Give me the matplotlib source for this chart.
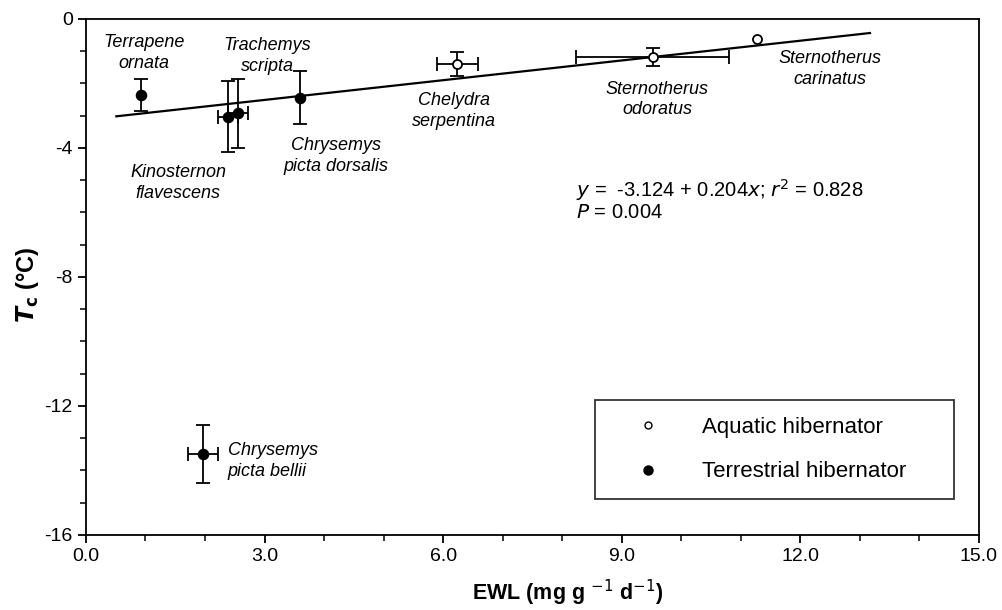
import matplotlib
matplotlib.use("Agg")
import matplotlib.pyplot as plt
import numpy as np

plt.rcParams['font.family'] = ['Liberation Sans', 'DejaVu Sans']

# Species data
species = ["Terrapene\nornata", "Kinosternon\nflavescens", "Trachemys\nscripta",
           "Chrysemys\npicta dorsalis", "Chelydra\nserpentina", "Sternotherus\nodoratus",
           "Sternotherus\ncarinatus", "Chrysemys\npicta bellii"]
ewl = [0.92, 2.38, 2.56, 3.59, 6.24, 9.52, 11.28, 1.96]
ewl_err = [0.0, 0.17, 0.17, 0.0, 0.34, 1.28, 0.0, 0.25]
tc = [-2.36, -3.04, -2.92, -2.44, -1.40, -1.18, -0.62, -13.49]
tc_err = [0.50, 1.10, 1.07, 0.83, 0.38, 0.28, 0.0, 0.90]
habit = ["T", "T", "T", "T", "A", "A", "A", "T"]

# Regression
intercept = -3.124
slope = 0.204
fit_x = [0.51, 13.17]

# Label positions (data coords) and alignments
label_xy = [(0.98, -1.06), (1.55, -5.1), (3.05, -1.15), (4.2, -4.25),
            (6.18, -2.85), (9.6, -2.5), (12.5, -1.55), (2.38, -13.7)]
label_ha = ["center", "center", "center", "center", "center", "center", "center", "left"]

fig = plt.figure(figsize=(10.03, 6.10), dpi=100)
ax = fig.add_axes([0.0857, 0.123, 0.8903, 0.846])

for i in range(len(ewl)):
    filled = habit[i] == "T"
    ms = 7 if filled else 6.5
    ax.errorbar(ewl[i], tc[i],
                xerr=ewl_err[i] if ewl_err[i] > 0 else None,
                yerr=tc_err[i] if tc_err[i] > 0 else None,
                fmt='o', color='black', ms=ms,
                mfc='black' if filled else 'white', mec='black', mew=1.3,
                ecolor='black', elinewidth=1.3, capsize=5, capthick=1.3, zorder=3)

xs = np.array(fit_x)
ax.plot(xs, intercept + slope * xs, color='black', lw=1.6, zorder=2)

for name, (lx, ly), ha in zip(species, label_xy, label_ha):
    ax.text(lx, ly, name, ha=ha, va='center', fontsize=13, style='italic',
            linespacing=1.3)

ax.text(8.24, -5.6, "$y$ =  -3.124 + 0.204$x$; $r^2$ = 0.828\n$P$ = 0.004",
        ha='left', va='center', fontsize=14.5, linespacing=1.05)

# Legend
h_a, = ax.plot([], [], 'o', mfc='white', mec='black', ms=5, mew=1.0, ls='none')
h_t, = ax.plot([], [], 'o', mfc='black', mec='black', ms=6.5, ls='none')
leg = ax.legend([h_a, h_t], ["Aquatic hibernator", "Terrestrial hibernator"],
                loc='lower left', bbox_to_anchor=(0.570, 0.0698, 0.402, 0.196), mode='expand',
                borderaxespad=0.0,
                fontsize=16, frameon=True, fancybox=False, borderpad=0.75,
                labelspacing=1.05, handletextpad=0.8, handlelength=3.27)
leg.get_frame().set_edgecolor('black')
leg.get_frame().set_linewidth(1.3)

ax.set_xlim(0, 15)
ax.set_ylim(-16, 0)
ax.set_xticks(np.arange(0, 15.1, 3))
ax.set_xticklabels([f"{v:.1f}" for v in np.arange(0, 15.1, 3)])
ax.set_xticks(np.arange(0, 15.1, 1), minor=True)
ax.set_yticks(np.arange(-16, 0.1, 4))
ax.set_yticklabels([f"{int(v)}" for v in np.arange(-16, 0.1, 4)])
ax.set_yticks(np.arange(-16, 0.1, 1), minor=True)
ax.tick_params(which='major', direction='out', length=6, width=1.3, labelsize=14)
ax.tick_params(which='minor', direction='out', length=4, width=1.1)
for s in ax.spines.values():
    s.set_linewidth(1.3)

ax.set_xlabel("EWL (mg g $^{-1}$ d$^{-1}$)", fontsize=15.5, fontweight='bold')
ax.xaxis.set_label_coords(0.54, -0.083)
ax.set_ylabel(r"$\boldsymbol{T}_{\mathbf{c}}$ (°C)", fontsize=17, fontweight='bold')
ax.yaxis.set_label_coords(-0.05, 0.484)

fig.savefig("out.png", dpi=100)
